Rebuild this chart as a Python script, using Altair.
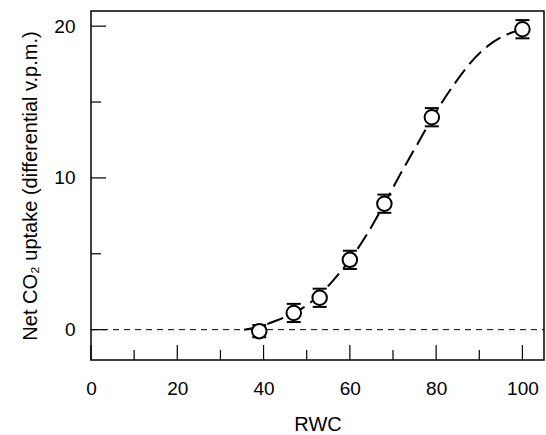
import altair as alt
import pandas as pd

# Measured points
rwc = [39, 47, 53, 60, 68, 79, 100]
uptake = [-0.1, 1.1, 2.1, 4.6, 8.3, 14.0, 19.8]
err = [0.4, 0.6, 0.6, 0.6, 0.6, 0.6, 0.6]

# Fitted curve
curve_x = [35.5, 39, 43, 47, 50, 53, 56, 60, 64, 68, 72, 76, 79, 84, 88, 92, 96, 100]
curve_y = [0.0, 0.2, 0.6, 1.1, 1.6, 2.3, 3.2, 4.6, 6.3, 8.3, 10.4, 12.4, 13.9, 16.1, 17.6, 18.7, 19.4, 19.8]

x_major = [0, 20, 40, 60, 80, 100]
x_minor = [10, 30, 50, 70, 90]
y_major = [0, 10, 20]
y_minor = [5, 15]

W, H = 453, 349
FONT = "Liberation Sans"

pts = pd.DataFrame({"rwc": rwc, "up": uptake,
                    "lo": [u - e for u, e in zip(uptake, err)],
                    "hi": [u + e for u, e in zip(uptake, err)]})
curve = pd.DataFrame({"x": curve_x, "y": curve_y})

xs = alt.Scale(domain=[0, 105], nice=False, zero=False)
ys = alt.Scale(domain=[-2, 21], nice=False, zero=False)

xaxis = alt.Axis(values=x_major, title="RWC", ticks=False, tickSize=0, domain=False, grid=False,
                 labelFlush=False, labelFontSize=19, labelPadding=19, titleFontSize=20, titlePadding=16,
                 labelColor="black", titleColor="black", titleFontWeight="normal", labelFont=FONT, titleFont=FONT)
yaxis = alt.Axis(values=y_major, title="Net CO₂ uptake (differential v.p.m.)", ticks=False, tickSize=0,
                 domain=False, grid=False, labelFlush=False, labelFontSize=19, labelPadding=16, titleFontSize=20,
                 titlePadding=13, labelColor="black", titleColor="black", titleFontWeight="normal",
                 labelFont=FONT, titleFont=FONT)

X = lambda f: alt.X(f, scale=xs, axis=xaxis, title="RWC")
Y = lambda f: alt.Y(f, scale=ys, axis=yaxis, title="Net CO₂ uptake (differential v.p.m.)")

zero = alt.Chart(pd.DataFrame({"z": [0]})).mark_rule(
    color="black", strokeWidth=1, strokeDash=[6, 5]).encode(
    y=Y("z:Q"), x=alt.value(0), x2=alt.value(W))

line = alt.Chart(curve).mark_line(color="black", strokeWidth=2, strokeDash=[17, 7],
                                  interpolate="monotone").encode(
    x=X("x:Q"), y=Y("y:Q"))

bars = alt.Chart(pts).mark_rule(color="black", strokeWidth=1.5).encode(
    x=X("rwc:Q"), y=Y("lo:Q"), y2="hi:Q")

cap_lo = alt.Chart(pts).mark_tick(color="black", thickness=2, size=14, orient="horizontal",
                                  opacity=1).encode(x=X("rwc:Q"), y=Y("lo:Q"))
cap_hi = alt.Chart(pts).mark_tick(color="black", thickness=2, size=14, orient="horizontal",
                                  opacity=1).encode(x=X("rwc:Q"), y=Y("hi:Q"))

circles = alt.Chart(pts).mark_point(shape="circle", filled=False, fill="white", fillOpacity=1,
                                    stroke="black", strokeWidth=2, size=210, opacity=1).encode(
    x=X("rwc:Q"), y=Y("up:Q"))

xmaj = alt.Chart(pd.DataFrame({"v": x_major})).mark_rule(color="black", strokeWidth=1.2).encode(
    x=X("v:Q"), y=alt.value(H), y2=alt.value(H - 15))
xmin = alt.Chart(pd.DataFrame({"v": x_minor})).mark_rule(color="black", strokeWidth=1.2).encode(
    x=X("v:Q"), y=alt.value(H), y2=alt.value(H - 10))
ymaj = alt.Chart(pd.DataFrame({"v": y_major})).mark_rule(color="black", strokeWidth=1.2).encode(
    y=Y("v:Q"), x=alt.value(0), x2=alt.value(15))
ymin = alt.Chart(pd.DataFrame({"v": y_minor})).mark_rule(color="black", strokeWidth=1.2).encode(
    y=Y("v:Q"), x=alt.value(0), x2=alt.value(10))

chart = alt.layer(zero, line, xmaj, xmin, ymaj, ymin, bars, cap_lo, cap_hi, circles).properties(
    width=W, height=H,
    autosize=alt.AutoSizeParams(type="none"),
    padding={"left": 91, "top": 11, "right": 2, "bottom": 75},
    background="white",
).configure(font=FONT).configure_view(stroke="black", strokeWidth=1.5)

chart.save("out.html", embed_options={"renderer": "svg", "actions": False})
